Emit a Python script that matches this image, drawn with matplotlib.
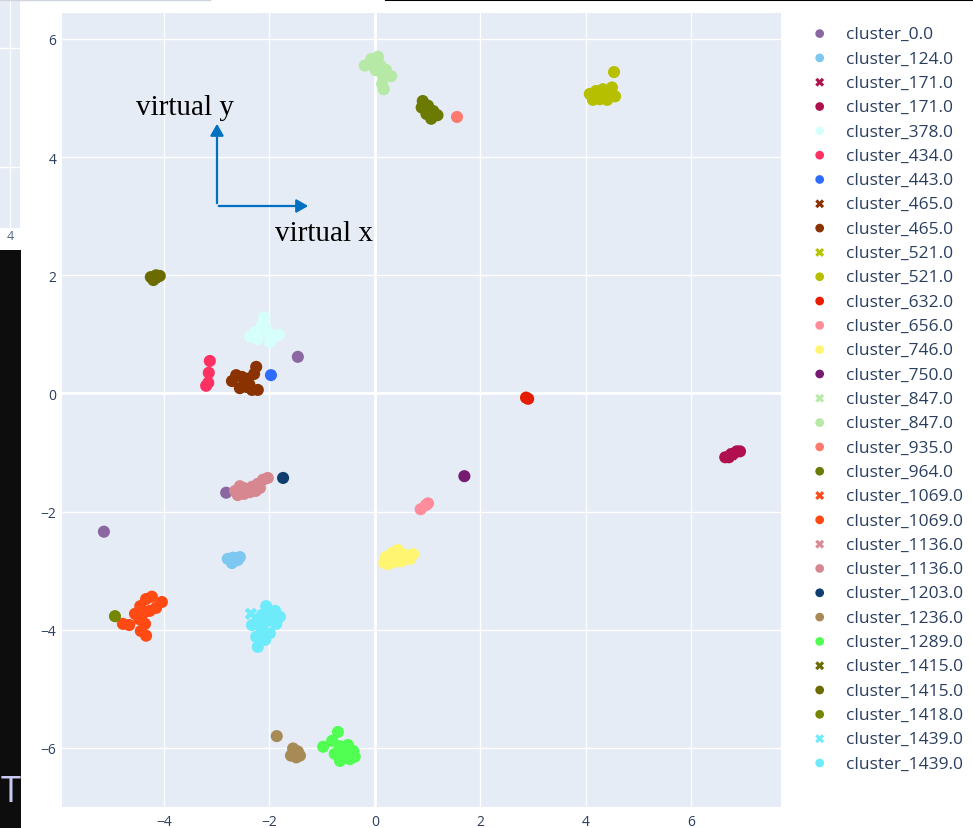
import matplotlib as mpl
import matplotlib.pyplot as plt
from matplotlib.patches import Rectangle, FancyArrowPatch
from matplotlib.lines import Line2D

# cluster coordinates
x_0 = [-1.46, -2.82, -5.14]
y_0 = [0.62, -1.68, -2.34]
x_124 = [-2.79, -2.69, -2.60, -2.71, -2.56]
y_124 = [-2.80, -2.78, -2.82, -2.87, -2.77]
x_171x = [6.78]
y_171x = [-1.03]
x_171 = [6.65, 6.76, 6.87, 6.93, 6.72, 6.80]
y_171 = [-1.08, -1.03, -0.98, -0.98, -1.08, -1.02]
x_378 = [-2.10, -2.14, -2.27, -2.03, -1.90, -2.22, -1.99, -2.37, -1.82, -2.08]
y_378 = [1.29, 1.16, 1.04, 1.04, 0.97, 0.92, 0.87, 0.96, 0.99, 1.13]
x_434 = [-3.13, -3.15, -3.16, -3.20]
y_434 = [0.55, 0.35, 0.18, 0.13]
x_443 = [-1.97]
y_443 = [0.31]
x_465x = [-2.45]
y_465x = [0.20]
x_465 = [-2.63, -2.52, -2.41, -2.29, -2.25, -2.43, -2.56, -2.33, -2.22, -2.46, -2.71, -2.38]
y_465 = [0.31, 0.28, 0.25, 0.33, 0.45, 0.11, 0.09, 0.06, 0.06, 0.19, 0.21, 0.15]
x_521x = [4.30]
y_521x = [5.05]
x_521 = [4.08, 4.20, 4.33, 4.46, 4.56, 4.27, 4.41, 4.14, 4.50, 4.31, 4.54]
y_521 = [5.07, 5.12, 5.15, 5.12, 5.03, 4.98, 4.97, 4.97, 5.18, 5.05, 5.44]
x_632 = [2.87, 2.91]
y_632 = [-0.07, -0.09]
x_656 = [0.87, 0.97, 1.01]
y_656 = [-1.96, -1.89, -1.86]
x_746 = [0.21, 0.33, 0.44, 0.57, 0.73, 0.25, 0.38, 0.51, 0.67, 0.18]
y_746 = [-2.77, -2.70, -2.65, -2.73, -2.72, -2.89, -2.85, -2.84, -2.80, -2.87]
x_750 = [1.70]
y_750 = [-1.40]
x_847x = [0.10]
y_847x = [5.50]
x_847 = [-0.07, 0.06, -0.19, -0.05, 0.10, 0.21, 0.31, 0.16, 0.14, 0.17, 0.02]
y_847 = [5.66, 5.70, 5.55, 5.56, 5.56, 5.48, 5.37, 5.37, 5.24, 5.15, 5.47]
x_935 = [1.56]
y_935 = [4.68]
x_964 = [0.91, 1.01, 1.11, 1.19, 0.98, 1.07, 0.89]
y_964 = [4.95, 4.87, 4.78, 4.71, 4.73, 4.65, 4.84]
x_1069x = [-4.40]
y_1069x = [-3.70]
x_1069 = [-4.78, -4.66, -4.45, -4.34, -4.23, -4.04, -4.38, -4.27, -4.47, -4.36, -4.44, -4.34, -4.15, -4.55]
y_1069 = [-3.90, -3.92, -3.60, -3.48, -3.44, -3.53, -3.71, -3.68, -3.82, -3.90, -4.02, -4.10, -3.63, -3.73]
x_1136x = [-2.40]
y_1136x = [-1.60]
x_1136 = [-2.65, -2.56, -2.44, -2.33, -2.22, -2.12, -2.03, -2.37, -2.60, -2.26, -2.48, -2.18]
y_1136 = [-1.65, -1.57, -1.62, -1.58, -1.53, -1.46, -1.43, -1.67, -1.72, -1.65, -1.70, -1.60]
x_1203 = [-1.74]
y_1203 = [-1.43]
x_1236 = [-1.86, -1.55, -1.46, -1.59, -1.49, -1.42]
y_1236 = [-5.80, -6.01, -6.06, -6.13, -6.16, -6.13]
x_1289 = [-0.70, -0.98, -0.81, -0.66, -0.51, -0.41, -0.60, -0.47, -0.76, -0.38, -0.57, -0.66]
y_1289 = [-5.73, -5.98, -5.88, -5.97, -5.95, -6.05, -6.12, -6.19, -6.10, -6.15, -6.02, -6.22]
x_1415x = [-4.15]
y_1415x = [1.97]
x_1415 = [-4.25, -4.15, -4.08, -4.20]
y_1415 = [1.97, 2.00, 1.99, 1.92]
x_1418 = [-4.93]
y_1418 = [-3.77]
x_1439x = [-2.35]
y_1439x = [-3.73]
x_1439 = [-2.06, -1.89, -1.80, -2.22, -2.03, -1.87, -2.33, -2.14, -1.99, -2.25, -2.08, -2.22, -2.14, -1.95]
y_1439 = [-3.60, -3.68, -3.78, -3.82, -3.85, -3.90, -3.92, -3.99, -4.06, -4.12, -4.17, -4.29, -3.75, -3.77]

labels = ["cluster_0.0", "cluster_124.0", "cluster_171.0", "cluster_171.0", "cluster_378.0",
          "cluster_434.0", "cluster_443.0", "cluster_465.0", "cluster_465.0", "cluster_521.0",
          "cluster_521.0", "cluster_632.0", "cluster_656.0", "cluster_746.0", "cluster_750.0",
          "cluster_847.0", "cluster_847.0", "cluster_935.0", "cluster_964.0", "cluster_1069.0",
          "cluster_1069.0", "cluster_1136.0", "cluster_1136.0", "cluster_1203.0", "cluster_1236.0",
          "cluster_1289.0", "cluster_1415.0", "cluster_1415.0", "cluster_1418.0", "cluster_1439.0",
          "cluster_1439.0"]
xs = [x_0, x_124, x_171x, x_171, x_378, x_434, x_443, x_465x, x_465, x_521x, x_521, x_632,
      x_656, x_746, x_750, x_847x, x_847, x_935, x_964, x_1069x, x_1069, x_1136x, x_1136,
      x_1203, x_1236, x_1289, x_1415x, x_1415, x_1418, x_1439x, x_1439]
ys = [y_0, y_124, y_171x, y_171, y_378, y_434, y_443, y_465x, y_465, y_521x, y_521, y_632,
      y_656, y_746, y_750, y_847x, y_847, y_935, y_964, y_1069x, y_1069, y_1136x, y_1136,
      y_1203, y_1236, y_1289, y_1415x, y_1415, y_1418, y_1439x, y_1439]

# styles
colors = ["#8A67A0", "#7DC7F0", "#B0104E", "#B0104E", "#D6FFFC", "#FE3162", "#2E6CFF",
          "#8B3300", "#8B3300", "#B6C400", "#B6C000", "#E61C00", "#FF8C9A", "#FFF571",
          "#771A72", "#B8EAAA", "#B6E8A6", "#FF7A6E", "#6B7A00", "#FF4A1A", "#FF4A14",
          "#D88A94", "#D7878F", "#0F3D6F", "#A88A57", "#50FF52", "#6B6B00", "#6B6B00",
          "#758600", "#6DEBFB", "#6DEBFB"]
xmark = [2, 7, 9, 15, 19, 21, 26, 29]

W, H = 973, 829

def fx(p):
	return p/float(W)

def fy(p):
	return 1.0 - p/float(H)

mpl.rc('font', family=['Open Sans', 'DejaVu Sans'])
fig = plt.figure(figsize=(W/100.0, H/100.0), dpi=100, facecolor='white')

# leftover bits of the screenshot on the left edge
fig.patches.append(Rectangle((0, fy(229)), fx(20), fy(2) - fy(229), transform=fig.transFigure,
	facecolor='#E5ECF6', edgecolor='none', zorder=0))
fig.lines.append(Line2D([fx(10), fx(10)], [fy(2), fy(229)], transform=fig.transFigure, color='white', lw=1))
for gy in [49, 168]:
	fig.lines.append(Line2D([0, fx(20)], [fy(gy), fy(gy)], transform=fig.transFigure, color='white', lw=1))
fig.lines.append(Line2D([0, fx(210)], [fy(0.5), fy(0.5)], transform=fig.transFigure, color='#D0D4DC', lw=1))
fig.lines.append(Line2D([fx(386), 1], [fy(0.7), fy(0.7)], transform=fig.transFigure, color='black', lw=1.5))
fig.text(fx(10), fy(237), "4", color='#506784', fontsize=9, ha='center', va='center')
fig.patches.append(Rectangle((0, 0), fx(21), fy(251), transform=fig.transFigure,
	facecolor='#0D0D0D', edgecolor='none', zorder=0))
fig.text(fx(11), fy(793), "T", color='#C9C9F2', fontsize=26, ha='center', va='center')

ax = fig.add_axes([fx(62), fy(808), fx(781) - fx(62), fy(14) - fy(808)])
ax.set_facecolor('#E5ECF6')
for s in ax.spines.values():
	s.set_visible(False)

for i in range(len(labels)):
	m = 'X' if i in xmark else 'o'
	sz = 80 if m == 'X' else 76
	ax.scatter(xs[i], ys[i], s=sz, marker=m, color=colors[i], edgecolors='none', label=labels[i], zorder=3)

ax.set_xlim(-5.935, 7.708)
ax.set_ylim(-7.0, 6.44)
ax.set_xticks([-4, -2, 0, 2, 4, 6])
ax.set_yticks([-6, -4, -2, 0, 2, 4, 6])
ax.grid(True, color='white', lw=1)
ax.set_axisbelow(True)
ax.axhline(0, color='white', lw=2, zorder=1)
ax.axvline(0, color='white', lw=2, zorder=1)
ax.tick_params(length=0, labelsize=10, labelcolor='#2A3F5F')
ax.tick_params(axis='x', pad=5)
ax.tick_params(axis='y', pad=4)

leg = ax.legend(loc='upper left', bbox_to_anchor=(fx(811), fy(27)), bbox_transform=fig.transFigure,
	frameon=False, fontsize=12.5, labelspacing=0.47, handlelength=1.0, handletextpad=1.0,
	borderaxespad=0, borderpad=0, markerscale=0.72)
for t in leg.get_texts():
	t.set_color('#2A3F5F')

# virtual axes sketch
blue = '#0070C0'
fig.patches.append(FancyArrowPatch((fx(217), fy(207)), (fx(217), fy(122)), transform=fig.transFigure,
	arrowstyle='-|>,head_length=7,head_width=4', color=blue, lw=1.6))
fig.patches.append(FancyArrowPatch((fx(216), fy(207)), (fx(311), fy(207)), transform=fig.transFigure,
	arrowstyle='-|>,head_length=7,head_width=4', color=blue, lw=1.6))
fig.text(fx(136), fy(108), "virtual y", family='Liberation Serif', fontsize=21, color='black', va='center')
fig.text(fx(275), fy(234), "virtual x", family='Liberation Serif', fontsize=21, color='black', va='center')

plt.savefig('out.png', dpi=100, facecolor='white')
